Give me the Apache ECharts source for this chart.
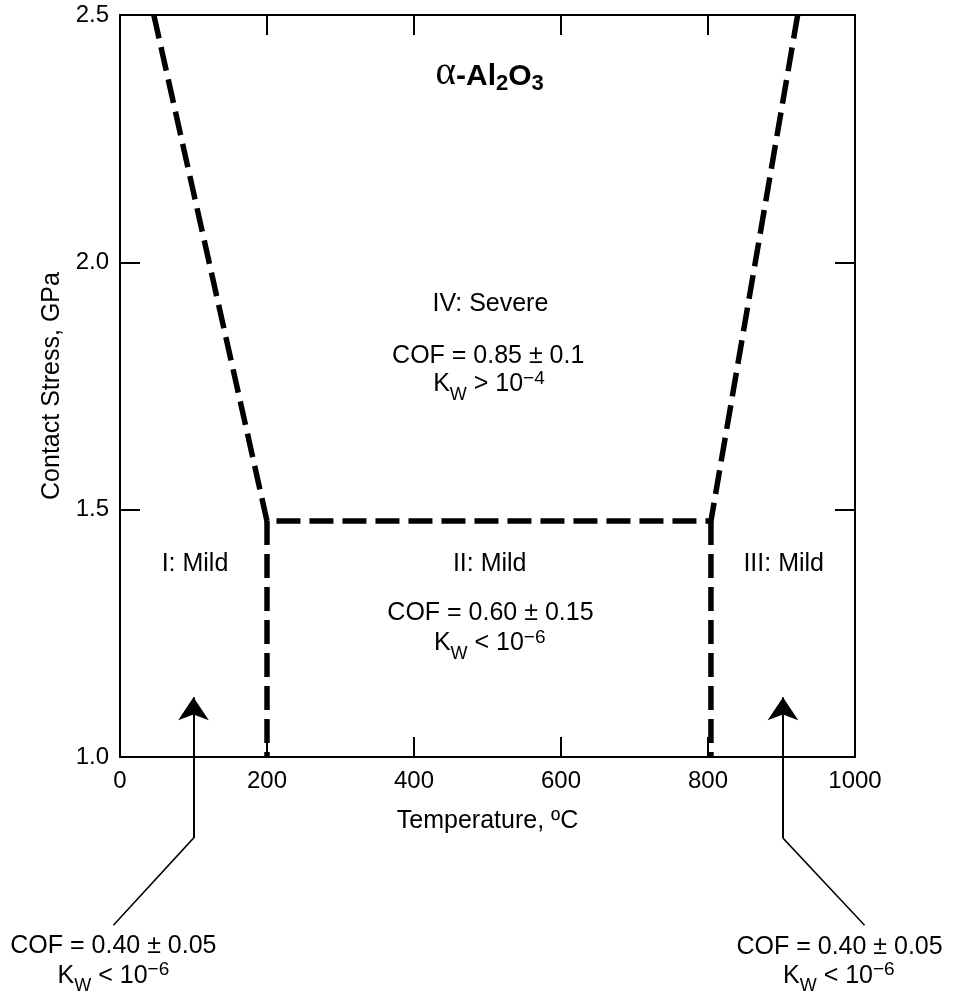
<!DOCTYPE html>
<html><head><meta charset="utf-8">
<script src="https://cdn.jsdelivr.net/npm/echarts@6/dist/echarts.min.js"></script>
<style>html,body{margin:0;padding:0;background:#fff}#c{width:954px;height:994px}</style>
</head><body><div id="c"></div>
<script>
// ---- data ----
const xTicks = [0, 200, 400, 600, 800, 1000];
const yTicks = [1.0, 1.5, 2.0, 2.5];
const severeBoundary = [[46, 2.5], [200, 1.477], [804, 1.477], [922, 2.5]];
const leftMildBoundary = [[200, 1.477], [200, 1.0]];
const rightMildBoundary = [[804, 1.477], [804, 1.0]];
const leftArrowShaft = [[100, 0.836], [100, 1.121]];
const leftArrowLeader = [[100, 0.836], [-9, 0.66]];
const rightArrowShaft = [[902, 0.836], [902, 1.121]];
const rightArrowLeader = [[902, 0.836], [1013, 0.66]];
const annotationText = [
  '{a|α}{b|-Al}{bs|2}{b|O}{bs|3}',
  'IV: Severe',
  'COF = 0.85 ± 0.1',
  '{n|K}{sub|W}{n| > 10}{sup|−4}',
  'I: Mild',
  'II: Mild',
  'III: Mild',
  'COF = 0.60 ± 0.15',
  '{n|K}{sub|W}{n| < 10}{sup|−6}',
  'COF = 0.40 ± 0.05',
  '{n|K}{sub|W}{n| < 10}{sup|−6}',
  'COF = 0.40 ± 0.05',
  '{n|K}{sub|W}{n| < 10}{sup|−6}'
];
const annotationAt = [
  [503, 2.382], [504, 1.916], [501, 1.810], [502, 1.765],
  [102, 1.39], [503, 1.39], [903, 1.39],
  [504, 1.290], [503, 1.2417],
  [-9, 0.618], [-9, 0.5695],
  [979, 0.616], [978, 0.5695]
];
// ---- chart ----
const FONT = 'Liberation Sans';
const axisCommon = {
  type: 'value',
  axisLine: { onZero: false, lineStyle: { color: '#000', width: 2 } },
  axisTick: { inside: true, length: 20, lineStyle: { color: '#000', width: 2 } },
  splitLine: { show: false },
  axisLabel: { show: false }
};
const noBorder = { textBorderWidth: 0, textShadowBlur: 0, opacity: 1 };
const chart = echarts.init(document.getElementById('c'), null, { renderer: 'canvas' });
const option = {
  animation: false,
  backgroundColor: '#fff',
  grid: { left: 120, right: 99, top: 15, bottom: 237, outerBoundsMode: 'none', containLabel: false },
  xAxis: [
    Object.assign({}, axisCommon, {
      position: 'bottom', min: xTicks[0], max: xTicks[xTicks.length - 1], interval: xTicks[1] - xTicks[0],
      axisLabel: { show: true, margin: 12, color: '#000', fontFamily: FONT, fontSize: 24,
        formatter: v => String(v), showMinLabel: true, showMaxLabel: true },
      name: 'Temperature, ºC', nameLocation: 'middle', nameGap: 52,
      nameTextStyle: { color: '#000', fontFamily: FONT, fontSize: 25 }
    }),
    Object.assign({}, axisCommon, {
      position: 'top', min: xTicks[0], max: xTicks[xTicks.length - 1], interval: xTicks[1] - xTicks[0]
    })
  ],
  yAxis: [
    Object.assign({}, axisCommon, {
      position: 'left', min: yTicks[0], max: yTicks[yTicks.length - 1], interval: yTicks[1] - yTicks[0],
      axisLabel: { show: true, margin: 11, color: '#000', fontFamily: FONT, fontSize: 24,
        formatter: v => v.toFixed(1), showMinLabel: true, showMaxLabel: true },
      name: 'Contact Stress, GPa', nameLocation: 'middle', nameGap: 54, nameRotate: 90,
      nameTextStyle: { color: '#000', fontFamily: FONT, fontSize: 25 }
    }),
    Object.assign({}, axisCommon, {
      position: 'right', min: yTicks[0], max: yTicks[yTicks.length - 1], interval: yTicks[1] - yTicks[0]
    })
  ],
  series: [
    ...[severeBoundary, leftMildBoundary, rightMildBoundary].map(d => ({
      type: 'line', data: d, symbol: 'none', silent: true,
      lineStyle: { color: '#000', width: 5.5, type: [24, 9], cap: 'butt' }
    })),
    {
      type: 'lines', coordinateSystem: 'cartesian2d', clip: false, silent: true,
      symbol: ['none', 'arrow'], symbolSize: [10.5, 23],
      lineStyle: { color: '#000', width: 2, opacity: 1, curveness: 0 },
      data: [{ coords: leftArrowShaft }, { coords: rightArrowShaft }]
    },
    {
      type: 'lines', coordinateSystem: 'cartesian2d', clip: false, silent: true,
      symbol: ['none', 'none'],
      lineStyle: { color: '#000', width: 1.5, opacity: 1, curveness: 0 },
      data: [{ coords: leftArrowLeader }, { coords: rightArrowLeader }]
    },
    {
      type: 'scatter', clip: false, silent: true, symbolSize: 0,
      itemStyle: { color: '#000', opacity: 0 },
      data: annotationAt.map((p, i) => ({ value: p, text: annotationText[i] })),
      label: Object.assign({
        show: true, position: [0, 0], align: 'center', verticalAlign: 'middle',
        color: '#000', fontFamily: FONT, fontSize: 25,
        formatter: p => p.data.text,
        rich: {
          a: Object.assign({ color: '#000', fontFamily: 'Liberation Serif', fontSize: 39, lineHeight: 39, padding: [0, 0, 6, 0], verticalAlign: 'top' }, noBorder),
          b: Object.assign({ color: '#000', fontFamily: FONT, fontWeight: 'bold', fontSize: 30, lineHeight: 30, padding: [8, 0, 7, 0], verticalAlign: 'top' }, noBorder),
          bs: Object.assign({ color: '#000', fontFamily: FONT, fontWeight: 'bold', fontSize: 22, lineHeight: 22, padding: [19, 0, 4, 0], verticalAlign: 'top' }, noBorder),
          n: Object.assign({ color: '#000', fontFamily: FONT, fontSize: 25, lineHeight: 25, padding: [6, 0, 7, 0], verticalAlign: 'top' }, noBorder),
          sub: Object.assign({ color: '#000', fontFamily: FONT, fontSize: 18, lineHeight: 18, padding: [20, 0, 0, 0], verticalAlign: 'top' }, noBorder),
          sup: Object.assign({ color: '#000', fontFamily: FONT, fontSize: 19, lineHeight: 19, padding: [3, 0, 16, 0], verticalAlign: 'top' }, noBorder)
        }
      }, noBorder)
    }
  ]
};
chart.setOption(option);
</script>
</body></html>
